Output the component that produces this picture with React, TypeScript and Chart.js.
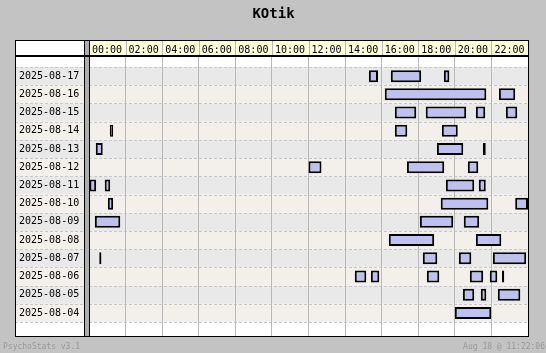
import { useEffect, useRef } from 'react';
import { Chart, registerables } from 'chart.js';

Chart.register(...registerables);

const TITLE = 'KOtik';
const FOOTER_LEFT = 'PsychoStats v3.1';
const FOOTER_RIGHT = 'Aug 18 @ 11:22:06';

const days = [
  '2025-08-17', '2025-08-16', '2025-08-15', '2025-08-14', '2025-08-13',
  '2025-08-12', '2025-08-11', '2025-08-10', '2025-08-09', '2025-08-08',
  '2025-08-07', '2025-08-06', '2025-08-05', '2025-08-04',
];

const hourTicks = [0, 2, 4, 6, 8, 10, 12, 14, 16, 18, 20, 22];
const tickLabels = ['00:00', '02:00', '04:00', '06:00', '08:00', '10:00', '12:00', '14:00', '16:00', '18:00', '20:00', '22:00'];

// sessions per day: [start hour, end hour]
const s0817 = [[15.3, 15.8], [16.5, 18.16], [19.4, 19.7]];
const s0816 = [[16.17, 21.72], [22.41, 23.3]];
const s0815 = [[16.72, 17.89], [18.41, 20.62], [21.15, 21.66], [22.79, 23.41]];
const s0814 = [[1.14, 1.32], [16.72, 17.4], [19.29, 20.16]];
const s0813 = [[0.37, 0.75], [19.02, 20.46], [21.53, 21.69]];
const s0812 = [[12.0, 12.71], [17.38, 19.42], [20.71, 21.28]];
const s0811 = [[0.0, 0.39], [0.86, 1.16], [19.51, 21.06], [21.31, 21.69]];
const s0810 = [[1.03, 1.32], [19.23, 21.83], [23.3, 24.0]];
const s0809 = [[0.32, 1.71], [18.09, 19.91], [20.49, 21.33]];
const s0808 = [[16.39, 18.87], [21.15, 22.54]];
const s0807 = [[0.56, 0.68], [18.25, 19.04], [20.22, 20.9], [22.08, 23.9]];
const s0806 = [[14.53, 15.16], [15.41, 15.87], [18.47, 19.15], [20.82, 21.55], [21.91, 22.32], [22.58, 22.7]];
const s0805 = [[20.44, 21.06], [21.42, 21.72], [22.35, 23.58]];
const s0804 = [[20.0, 21.99]];

const sessionsByDay = [s0817, s0816, s0815, s0814, s0813, s0812, s0811, s0810, s0809, s0808, s0807, s0806, s0805, s0804];

const FONT = "'DejaVu Sans Mono', monospace";

const framePlugin = {
  id: 'frame',
  beforeDraw(chart: any) {
    const { ctx, chartArea: ca, scales } = chart;
    const x = scales.x;
    const y = scales.y;
    const L = 15;
    const LR = 85;
    const top = x.top;
    const hb = ca.top;
    ctx.save();
    ctx.fillStyle = '#c3c3c3';
    ctx.fillRect(0, 0, chart.width, chart.height);
    // white body
    ctx.fillStyle = '#ffffff';
    ctx.fillRect(L, top, LR - L, ca.bottom - top);
    ctx.fillRect(ca.left, hb, ca.right - ca.left, ca.bottom - hb);
    // header yellow
    ctx.fillStyle = '#ffffdc';
    ctx.fillRect(ca.left, top, ca.right - ca.left, hb - top);
    // gap column
    ctx.fillStyle = '#aeaeae';
    ctx.fillRect(LR, top, ca.left - LR, ca.bottom - top);
    // rows
    days.forEach((_, i) => {
      const y0 = y.getPixelForValue(i - 0.5);
      const y1 = y.getPixelForValue(i + 0.5);
      ctx.fillStyle = i % 2 === 0 ? '#e9e9e9' : '#f3f0eb';
      ctx.fillRect(L, y0, LR - L, y1 - y0);
      ctx.fillRect(ca.left, y0, ca.right - ca.left, y1 - y0);
    });
    // dashed row separators
    ctx.strokeStyle = '#c8c8c8';
    ctx.lineWidth = 1;
    ctx.setLineDash([3, 2]);
    for (let i = 0; i <= days.length; i++) {
      const yy = Math.round(y.getPixelForValue(i - 0.5)) + 0.5;
      ctx.beginPath();
      ctx.moveTo(L, yy);
      ctx.lineTo(LR, yy);
      ctx.moveTo(ca.left, yy);
      ctx.lineTo(ca.right, yy);
      ctx.stroke();
    }
    ctx.setLineDash([]);
    // header separators
    ctx.strokeStyle = '#b9b9b9';
    hourTicks.forEach((h) => {
      if (h === 0) return;
      const px = Math.round(x.getPixelForValue(h)) + 0.5;
      ctx.beginPath();
      ctx.moveTo(px, top);
      ctx.lineTo(px, hb);
      ctx.stroke();
    });
    ctx.restore();
  },
  afterDraw(chart: any) {
    const { ctx, chartArea: ca, scales } = chart;
    const top = scales.x.top;
    const L = 15;
    ctx.save();
    ctx.fillStyle = '#000000';
    // outer border
    ctx.fillRect(L, top, ca.right + 1 - L, 1);
    ctx.fillRect(L, ca.bottom - 1, ca.right + 1 - L, 1);
    ctx.fillRect(L, top, 1, ca.bottom - top);
    ctx.fillRect(ca.right, top, 1, ca.bottom - top);
    // thick header line
    ctx.fillRect(L, ca.top - 2, ca.right + 1 - L, 2);
    // label column / plot separators
    ctx.fillRect(84, top, 1, ca.bottom - top);
    ctx.fillRect(ca.left, top, 1, ca.bottom - top);
    // footer
    ctx.font = `8px ${FONT}`;
    ctx.fillStyle = '#999999';
    ctx.textBaseline = 'middle';
    ctx.textAlign = 'left';
    ctx.fillText(FOOTER_LEFT, 3, 347);
    ctx.textAlign = 'right';
    ctx.fillText(FOOTER_RIGHT, 545, 347);
    ctx.restore();
  },
};

export default function App() {
  const ref = useRef<HTMLCanvasElement | null>(null);

  useEffect(() => {
    if (!ref.current) return;
    const bars = sessionsByDay.flatMap((list, i) => list.map(([a, b]) => ({ x: [a, b], y: i })));
    const chart = new Chart(ref.current, {
      type: 'bar',
      data: {
        datasets: [
          {
            data: bars as any,
            backgroundColor: '#c0c0f0',
            borderColor: '#000000',
            borderWidth: (c: any) => {
              const r = c.raw;
              const d = r && r.x ? r.x[1] - r.x[0] : 1;
              return d < 0.25 ? 1.5 : 2;
            },
            borderSkipped: false,
            inflateAmount: 0,
            barThickness: 12,
            grouped: false,
          } as any,
        ],
      },
      options: {
        indexAxis: 'y',
        responsive: false,
        animation: false,
        events: [],
        layout: { padding: { left: 19, right: 18, top: 0, bottom: 16 } },
        plugins: {
          legend: { display: false },
          tooltip: { enabled: false },
          title: {
            display: true,
            text: TITLE,
            color: '#000000',
            font: { family: FONT, size: 14, weight: 'bold' },
            padding: { top: 6, bottom: 17.2 },
          },
        },
        scales: {
          x: {
            type: 'linear',
            position: 'top',
            min: 0,
            max: 24,
            offset: false,
            afterBuildTicks: (scale: any) => {
              scale.ticks = hourTicks.map((v) => ({ value: v }));
            },
            afterFit: (scale: any) => {
              scale.height = 17;
            },
            ticks: {
              autoSkip: false,
              maxRotation: 0,
              minRotation: 0,
              align: 'start',
              labelOffset: 3,
              padding: 1,
              color: '#000000',
              font: { family: FONT, size: 10 },
              callback: (v: any) => tickLabels[hourTicks.indexOf(Number(v))] ?? '',
            },
            grid: { color: '#b9b9b9', lineWidth: 1, drawTicks: false, offset: false },
            border: { display: false },
          },
          y: {
            type: 'linear',
            position: 'left',
            reverse: true,
            offset: false,
            min: -1.05,
            max: 14.32,
            afterBuildTicks: (scale: any) => {
              scale.ticks = days.map((_, i) => ({ value: i }));
            },
            afterFit: (scale: any) => {
              scale.width = 70;
            },
            ticks: {
              autoSkip: false,
              crossAlign: 'far',
              color: '#000000',
              font: { family: FONT, size: 10 },
              callback: (v: any) => days[Number(v)] ?? '',
            },
            grid: { display: false, offset: false },
            border: { display: false },
          },
        },
      } as any,
      plugins: [framePlugin],
    });
    return () => chart.destroy();
  }, []);

  return (
    <div style={{ position: 'fixed', left: 0, top: 0, width: 546, height: 353 }}>
      <canvas ref={ref} width={546} height={353} style={{ display: 'block', width: 546, height: 353 }} />
    </div>
  );
}
